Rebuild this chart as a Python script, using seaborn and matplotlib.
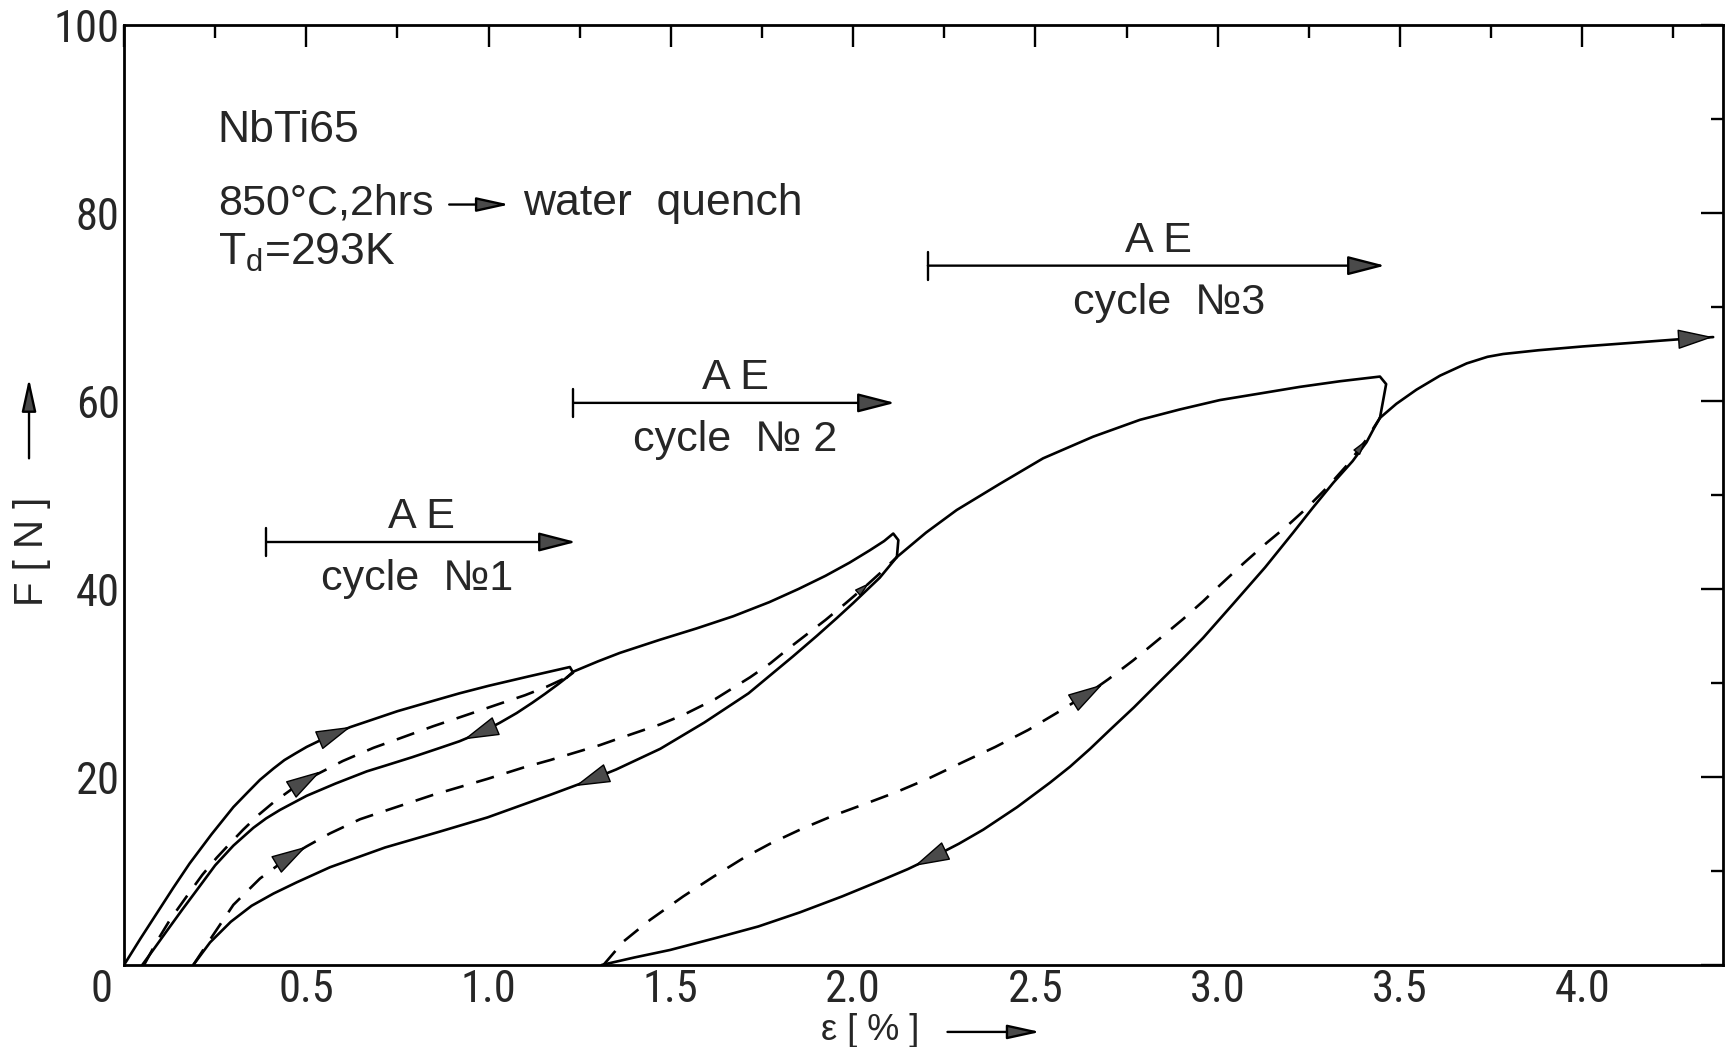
import numpy as np
import pandas as pd
import matplotlib
matplotlib.use("Agg")
import matplotlib.pyplot as plt
import seaborn as sns
from matplotlib.ticker import FixedLocator, MultipleLocator

# ---------------- data: strain eps [%], force F [N] ----------------
# cycle 1: first loading up to the turning point (with the small overshoot hook)
load1_eps = [0.0, 0.045, 0.09, 0.135, 0.18, 0.24, 0.30, 0.34, 0.373, 0.41, 0.44, 0.47,
             0.501, 0.565, 0.62, 0.666, 0.75, 0.848, 0.92, 1.0, 1.11, 1.223, 1.232, 1.215]
load1_F = [0.0, 2.8, 5.5, 8.2, 10.8, 13.9, 16.8, 18.4, 19.7, 20.9, 21.8, 22.5,
           23.2, 24.4, 25.3, 25.9, 27.0, 28.1, 28.9, 29.7, 30.7, 31.7, 31.1, 30.6]
unload1_eps = [1.215, 1.19, 1.155, 1.12, 1.077, 1.03, 0.985, 0.92, 0.867, 0.79, 0.716,
               0.666, 0.58, 0.501, 0.428, 0.39, 0.355, 0.30, 0.25, 0.208, 0.16, 0.117,
               0.08, 0.05]
unload1_F = [30.6, 29.85, 28.85, 27.9, 26.8, 25.75, 24.85, 23.8, 23.1, 22.1, 21.2,
             20.6, 19.3, 18.0, 16.5, 15.6, 14.6, 12.7, 10.6, 8.4, 5.9, 3.6,
             1.6, 0.0]
reload1_eps = [0.055, 0.09, 0.126, 0.172, 0.215, 0.254, 0.29, 0.327, 0.37, 0.41, 0.46,
               0.51, 0.60, 0.684, 0.77, 0.848, 0.94, 1.031, 1.10, 1.159, 1.215]
reload1_F = [0.0, 2.5, 4.8, 7.3, 9.6, 11.4, 12.9, 14.4, 16.0, 17.3, 18.7,
             19.9, 21.7, 23.1, 24.3, 25.4, 26.6, 27.8, 28.7, 29.6, 30.6]

# cycle 2
load2_eps = [1.215, 1.232, 1.30, 1.36, 1.47, 1.57, 1.671, 1.77, 1.85, 1.924, 1.99,
             2.045, 2.085, 2.11, 2.124, 2.12]
load2_F = [30.6, 31.2, 32.3, 33.2, 34.6, 35.8, 37.1, 38.6, 40.0, 41.4, 42.8,
           44.1, 45.1, 45.9, 45.2, 43.4]
unload2_eps = [2.12, 2.073, 2.0, 1.955, 1.90, 1.834, 1.713, 1.592, 1.471, 1.35, 1.28,
               1.169, 0.997, 0.867, 0.716, 0.565, 0.474, 0.41, 0.35, 0.293, 0.236, 0.19]
unload2_F = [43.4, 41.2, 38.5, 36.9, 35.0, 32.8, 28.9, 25.8, 23.0, 20.8, 19.7,
             18.1, 15.7, 14.2, 12.5, 10.4, 8.8, 7.6, 6.3, 4.6, 2.4, 0.0]
reload2_eps = [0.19, 0.236, 0.30, 0.373, 0.453, 0.50, 0.565, 0.647, 0.716, 0.848, 0.997,
               1.095, 1.169, 1.306, 1.35, 1.471, 1.534, 1.622, 1.717, 1.773, 1.827,
               1.924, 1.98, 2.04, 2.08, 2.12]
reload2_F = [0.0, 2.7, 6.4, 9.2, 11.5, 12.6, 14.0, 15.5, 16.4, 18.1, 19.8,
             21.0, 21.8, 23.4, 24.0, 25.6, 26.6, 28.3, 30.6, 32.1, 33.8,
             36.7, 38.5, 40.5, 41.9, 43.4]

# cycle 3
load3_eps = [2.12, 2.20, 2.284, 2.403, 2.521, 2.658, 2.787, 2.896, 3.006, 3.116, 3.225,
             3.335, 3.445, 3.462, 3.445]
load3_F = [43.4, 46.0, 48.4, 51.2, 53.9, 56.2, 58.0, 59.1, 60.1, 60.8, 61.5,
           62.1, 62.6, 61.8, 58.2]
unload3_eps = [3.445, 3.43, 3.408, 3.37, 3.317, 3.26, 3.207, 3.13, 3.042, 2.96, 2.905,
               2.832, 2.77, 2.704, 2.65, 2.595, 2.54, 2.45, 2.357, 2.29, 2.22, 2.15,
               2.083, 1.97, 1.854, 1.74, 1.626, 1.498, 1.40, 1.31]
unload3_F = [58.2, 57.2, 55.6, 53.6, 51.3, 48.6, 46.0, 42.3, 38.4, 34.8, 32.6,
             29.8, 27.4, 25.0, 23.0, 21.1, 19.4, 16.8, 14.4, 12.9, 11.5, 10.2,
             9.1, 7.3, 5.6, 4.1, 2.9, 1.6, 0.8, 0.0]
reload3_eps = [1.315, 1.37, 1.443, 1.534, 1.617, 1.70, 1.772, 1.86, 1.946, 2.03, 2.119,
               2.21, 2.302, 2.39, 2.48, 2.558, 2.645, 2.70, 2.768, 2.84, 2.905, 2.96,
               3.006, 3.07, 3.134, 3.19, 3.244, 3.30, 3.353, 3.404, 3.445]
reload3_F = [0.0, 2.5, 4.8, 7.3, 9.4, 11.4, 12.9, 14.5, 15.9, 17.1, 18.4,
             19.9, 21.6, 23.2, 25.0, 26.8, 28.9, 30.4, 32.4, 34.7, 36.8, 38.7,
             40.4, 42.7, 44.9, 46.7, 48.6, 50.8, 53.1, 55.7, 58.2]

# final loading beyond cycle 3
load4_eps = [3.445, 3.49, 3.545, 3.61, 3.683, 3.74, 3.783, 3.88, 4.0, 4.14, 4.277, 4.359]
load4_F = [58.2, 59.7, 61.2, 62.7, 64.0, 64.7, 65.0, 65.4, 65.8, 66.2, 66.6, 66.8]

# acoustic emission (AE) ranges per cycle
ae_start = [0.39, 1.232, 2.205]
ae_end = [1.24, 2.115, 3.459]
ae_level = [45.0, 59.8, 74.4]
ae_text_x = [0.815, 1.677, 2.837]
cycle_text_x = [0.805, 1.677, 2.867]
cycle_labels = ["cycle  №1", "cycle  № 2", "cycle  №3"]

x_tick_values = [0.0, 0.5, 1.0, 1.5, 2.0, 2.5, 3.0, 3.5, 4.0]
x_tick_labels = ["", "0.5", "1.0", "1.5", "2.0", "2.5", "3.0", "3.5", "4.0"]
y_tick_values = [0, 20, 40, 60, 80, 100]
y_tick_labels = ["", "20", "40", "60", "80", "100"]

# ---------------- figure ----------------
sns.set_style("white")
TEXT_FONT = ["Liberation Sans", "DejaVu Sans"]
TICK_FONT = ["Liberation Sans Narrow", "Roboto Condensed", "Liberation Sans", "DejaVu Sans"]
plt.rcParams["font.family"] = TEXT_FONT

fig = plt.figure(figsize=(17.25, 10.47), dpi=100)
ax = fig.add_axes([124 / 1725, 82 / 1047, 1599 / 1725, 940 / 1047])
ax.set_xlim(0, 4.386)
ax.set_ylim(0, 100)

segments = [
    ("load1", load1_eps, load1_F, "solid"),
    ("unload1", unload1_eps, unload1_F, "solid"),
    ("reload1", reload1_eps, reload1_F, "dashed"),
    ("load2", load2_eps, load2_F, "solid"),
    ("unload2", unload2_eps, unload2_F, "solid"),
    ("reload2", reload2_eps, reload2_F, "dashed"),
    ("load3", load3_eps, load3_F, "solid"),
    ("unload3", unload3_eps, unload3_F, "solid"),
    ("reload3", reload3_eps, reload3_F, "dashed"),
    ("load4", load4_eps, load4_F, "solid"),
]
frames = []
for name, xs, ys, kind in segments:
    frames.append(pd.DataFrame({"eps": xs, "F": ys, "segment": name, "kind": kind}))
df = pd.concat(frames, ignore_index=True)

LW = 1.9
sns.lineplot(data=df[df.kind == "solid"], x="eps", y="F", units="segment",
             estimator=None, sort=False, color="black", lw=LW, ax=ax, legend=False)
sns.lineplot(data=df[df.kind == "dashed"], x="eps", y="F", units="segment",
             estimator=None, sort=False, color="black", lw=LW, ax=ax, legend=False,
             dashes=False, linestyle=(0, (7, 5)))
for line in ax.get_lines():
    line.set_solid_joinstyle("round")
    line.set_dash_joinstyle("round")

ARROW_FC = "#4a4a4a"


def head(scale, hl=1.0, hw=0.28):
    return dict(arrowstyle=f"-|>,head_length={hl},head_width={hw}",
                mutation_scale=scale, fc=ARROW_FC, ec="black", lw=1.0,
                shrinkA=0, shrinkB=0)


def arrow_on(xs, ys, xa, length=34, scale=23):
    """Arrowhead centred on the curve at eps = xa, pointing along the path."""
    xs = np.asarray(xs, float)
    ys = np.asarray(ys, float)
    for i in range(len(xs) - 1):
        if xs[i] != xs[i + 1] and (xs[i] - xa) * (xs[i + 1] - xa) <= 0:
            t = (xa - xs[i]) / (xs[i + 1] - xs[i])
            ya = ys[i] + t * (ys[i + 1] - ys[i])
            p0 = ax.transData.transform((xs[i], ys[i]))
            p1 = ax.transData.transform((xs[i + 1], ys[i + 1]))
            break
    d = (p1 - p0) / np.hypot(*(p1 - p0))
    c = ax.transData.transform((xa, ya))
    inv = ax.transData.inverted()
    tip = inv.transform(c + d * length / 2)
    tail = inv.transform(c - d * length / 2)
    ax.annotate("", xy=tip, xytext=tail, arrowprops=head(scale))


def arrow_at_end(xs, ys, length=34, scale=23):
    p0 = ax.transData.transform((xs[-2], ys[-2]))
    p1 = ax.transData.transform((xs[-1], ys[-1]))
    d = (p1 - p0) / np.hypot(*(p1 - p0))
    tail = ax.transData.inverted().transform(p1 - d * length)
    ax.annotate("", xy=(xs[-1], ys[-1]), xytext=tail, arrowprops=head(scale))


arrow_on(load1_eps, load1_F, 0.58)
arrow_on(unload1_eps, unload1_F, 0.975)
arrow_on(reload1_eps, reload1_F, 0.50)
arrow_on(unload2_eps, unload2_F, 1.28)
arrow_on(reload2_eps, reload2_F, 0.46)
arrow_on(unload3_eps, unload3_F, 2.21)
arrow_on(reload3_eps, reload3_F, 2.645)
arrow_on(reload2_eps, reload2_F, 2.03, length=14, scale=9)
arrow_on(reload3_eps, reload3_F, 3.395, length=14, scale=9)
arrow_at_end(load4_eps, load4_F)

# AE ranges
for s, e, lvl, tx, cx, lab in zip(ae_start, ae_end, ae_level, ae_text_x,
                                  cycle_text_x, cycle_labels):
    ax.annotate("", xy=(e, lvl), xytext=(s, lvl), arrowprops=dict(
        arrowstyle="-|>,head_length=1.05,head_width=0.27", mutation_scale=22,
        fc=ARROW_FC, ec="black", lw=1.7, shrinkA=0, shrinkB=0))
    ax.plot([s, s], [lvl - 1.5, lvl + 1.5], color="black", lw=1.7)
    ax.text(tx, lvl + 1.5, "A E", ha="center", va="baseline", fontsize=31)
    ax.text(cx, lvl - 5.1, lab, ha="center", va="baseline", fontsize=31)

# specimen description
ax.text(0.257, 87.6, "NbTi65", ha="left", va="baseline", fontsize=32)
ax.text(0.257, 79.8, "850°C,2hrs", ha="left", va="baseline", fontsize=31)
ax.annotate("", xy=(1.057, 80.9), xytext=(0.892, 80.9), arrowprops=dict(
    arrowstyle="-|>,head_length=1.0,head_width=0.22", mutation_scale=20,
    fc=ARROW_FC, ec="black", lw=1.7, shrinkA=0, shrinkB=0))
ax.text(1.095, 79.8, "water  quench", ha="left", va="baseline", fontsize=32)
ax.text(0.257, 74.5, r"T$_{\mathregular{d}}$=293K", ha="left", va="baseline",
        fontsize=32)

# axes, ticks
for sp in ax.spines.values():
    sp.set_visible(True)
    sp.set_color("black")
    sp.set_linewidth(2.0)

ax.xaxis.set_major_locator(FixedLocator(x_tick_values))
ax.xaxis.set_minor_locator(MultipleLocator(0.25))
ax.yaxis.set_major_locator(FixedLocator(y_tick_values))
ax.yaxis.set_minor_locator(MultipleLocator(10))
ax.set_xticklabels(x_tick_labels)
ax.set_yticklabels(y_tick_labels)
ax.tick_params(which="both", direction="in", top=True, right=True, color="black",
               width=1.7)
ax.tick_params(which="major", length=16)
ax.tick_params(which="minor", length=9)
ax.tick_params(axis="x", which="major", pad=3, labelsize=32)
ax.tick_params(axis="y", which="major", pad=3, labelsize=32)
for lab in ax.get_xticklabels() + ax.get_yticklabels():
    lab.set_fontfamily(TICK_FONT)
ax.annotate("0", xy=(0, 0), xycoords="axes fraction", xytext=(-16, -3),
            textcoords="offset points", ha="center", va="top", fontsize=32,
            fontfamily=TICK_FONT)

ax.set_xlabel("")
ax.set_ylabel("")

# axis titles with direction arrows
ax.text(-0.0575, 0.44, "F [ N ]", transform=ax.transAxes, rotation=90,
        ha="center", va="center", fontsize=29)
ax.annotate("", xy=(-0.0594, 0.624), xytext=(-0.0594, 0.539),
            xycoords="axes fraction", textcoords="axes fraction",
            arrowprops=dict(arrowstyle="-|>,head_length=1.0,head_width=0.22",
                            mutation_scale=20, fc=ARROW_FC, ec="black", lw=1.7,
                            shrinkA=0, shrinkB=0), annotation_clip=False)
ax.text(0.4667, -0.0795, "ε [ % ]", transform=ax.transAxes,
        ha="center", va="baseline", fontsize=26)
ax.annotate("", xy=(0.573, -0.0712), xytext=(0.515, -0.0712),
            xycoords="axes fraction", textcoords="axes fraction",
            arrowprops=dict(arrowstyle="-|>,head_length=1.0,head_width=0.22",
                            mutation_scale=20, fc=ARROW_FC, ec="black", lw=1.7,
                            shrinkA=0, shrinkB=0), annotation_clip=False)

fig.savefig("out.png", dpi=100, facecolor="white")
